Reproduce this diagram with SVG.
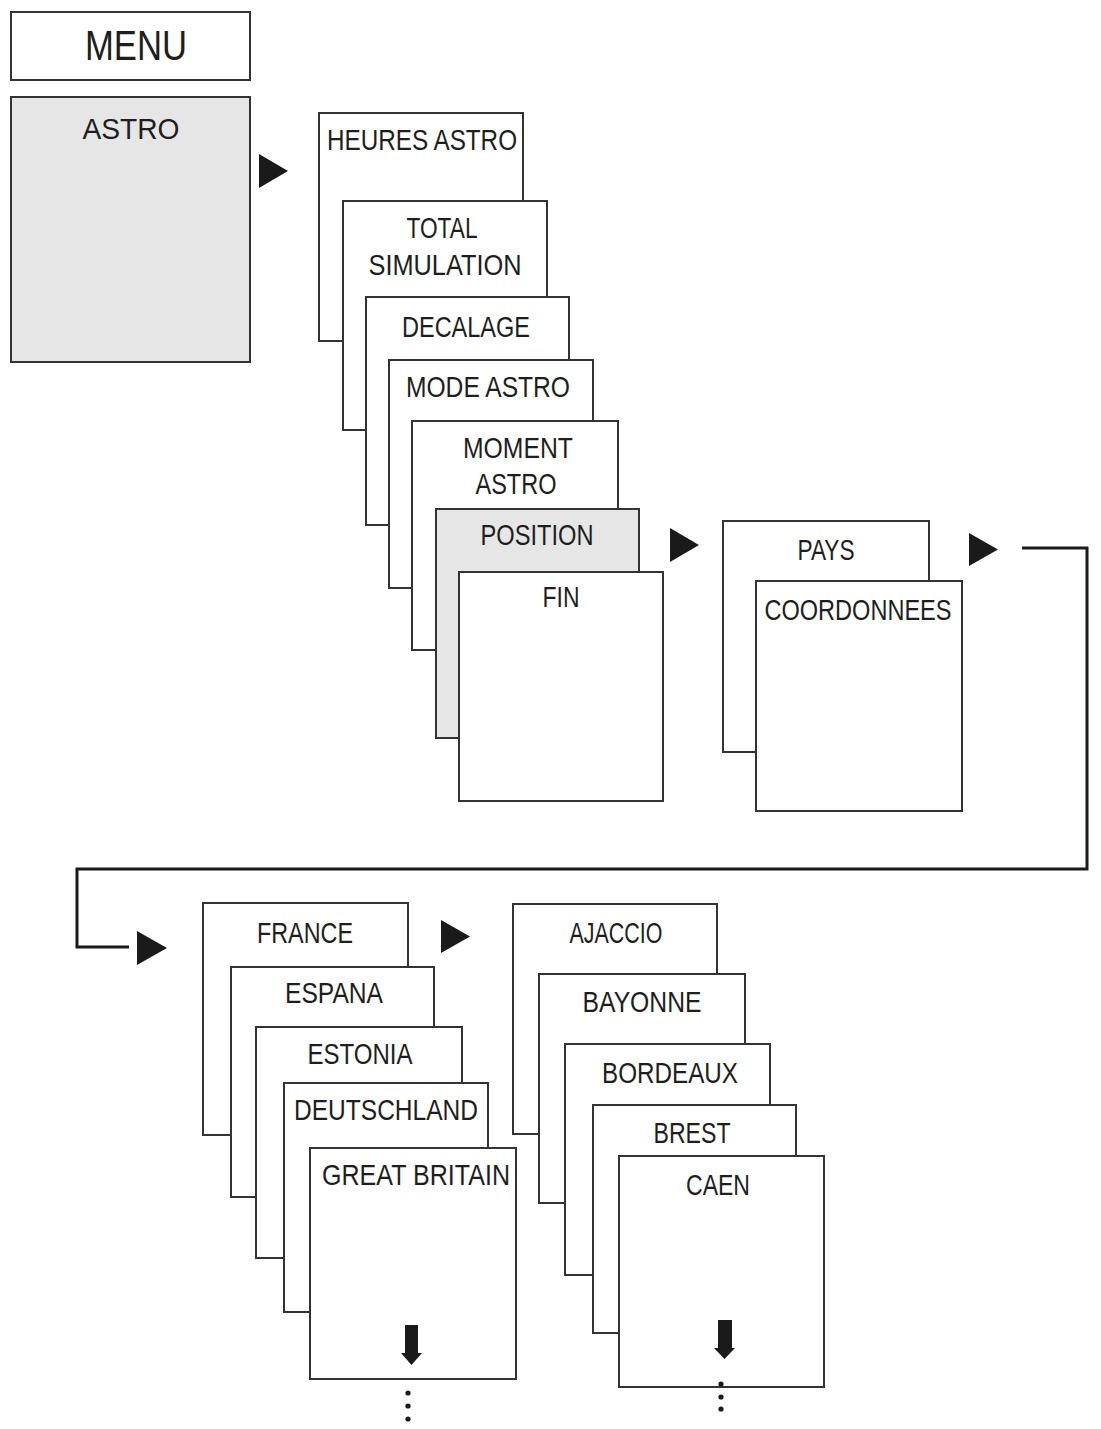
<svg xmlns="http://www.w3.org/2000/svg" width="1101" height="1429" viewBox="0 0 1101 1429">
<style>
.card{fill:#fff;stroke:#333;stroke-width:2}
.sel{fill:#e6e6e6;stroke:#333;stroke-width:2}
.t{font-family:"Liberation Sans",Arial,sans-serif;font-size:30px;fill:#1e1e1e;text-anchor:middle}
.big{font-size:42px}
.tri{fill:#1a1a1a}
.conn{fill:none;stroke:#1a1a1a;stroke-width:3}
.dot{fill:#1a1a1a}
</style>
<rect width="1101" height="1429" fill="#fff"/>

<g id="menu"><rect class="card" x="11" y="12" width="239" height="68"/><text class="t big" x="136" y="60" textLength="102" lengthAdjust="spacingAndGlyphs">MENU</text></g>
<g id="astro"><rect class="sel" x="11" y="97" width="239" height="265"/><text class="t" x="131" y="139" textLength="97" lengthAdjust="spacingAndGlyphs">ASTRO</text></g>

<g id="heures-astro"><rect class="card" x="319" y="113" width="204" height="228"/><text class="t" x="422" y="150" textLength="190" lengthAdjust="spacingAndGlyphs">HEURES ASTRO</text></g>
<g id="total-simulation"><rect class="card" x="343" y="201" width="204" height="229"/><text class="t" x="442" y="238" textLength="71" lengthAdjust="spacingAndGlyphs">TOTAL</text><text class="t" x="445" y="275" textLength="153" lengthAdjust="spacingAndGlyphs">SIMULATION</text></g>
<g id="decalage"><rect class="card" x="366" y="297" width="203" height="228"/><text class="t" x="466" y="337" textLength="128" lengthAdjust="spacingAndGlyphs">DECALAGE</text></g>
<g id="mode-astro"><rect class="card" x="389" y="360" width="204" height="228"/><text class="t" x="488" y="397" textLength="164" lengthAdjust="spacingAndGlyphs">MODE ASTRO</text></g>
<g id="moment-astro"><rect class="card" x="412" y="421" width="206" height="229"/><text class="t" x="518" y="458" textLength="110" lengthAdjust="spacingAndGlyphs">MOMENT</text><text class="t" x="516" y="494" textLength="81" lengthAdjust="spacingAndGlyphs">ASTRO</text></g>
<g id="position"><rect class="sel" x="436" y="509" width="203" height="229"/><text class="t" x="537" y="545" textLength="113" lengthAdjust="spacingAndGlyphs">POSITION</text></g>
<g id="fin"><rect class="card" x="459" y="572" width="204" height="229"/><text class="t" x="561" y="607" textLength="37" lengthAdjust="spacingAndGlyphs">FIN</text></g>

<g id="pays"><rect class="card" x="723" y="521" width="206" height="231"/><text class="t" x="826" y="560" textLength="57" lengthAdjust="spacingAndGlyphs">PAYS</text></g>
<g id="coordonnees"><rect class="card" x="756" y="581" width="206" height="230"/><text class="t" x="858" y="620" textLength="187" lengthAdjust="spacingAndGlyphs">COORDONNEES</text></g>

<g id="france"><rect class="card" x="203" y="903" width="205" height="232"/><text class="t" x="305" y="943" textLength="96" lengthAdjust="spacingAndGlyphs">FRANCE</text></g>
<g id="espana"><rect class="card" x="231" y="967" width="203" height="230"/><text class="t" x="334" y="1003" textLength="98" lengthAdjust="spacingAndGlyphs">ESPANA</text></g>
<g id="estonia"><rect class="card" x="256" y="1027" width="206" height="231"/><text class="t" x="360" y="1064" textLength="105" lengthAdjust="spacingAndGlyphs">ESTONIA</text></g>
<g id="deutschland"><rect class="card" x="284" y="1083" width="204" height="229"/><text class="t" x="386" y="1120" textLength="184" lengthAdjust="spacingAndGlyphs">DEUTSCHLAND</text></g>
<g id="great-britain"><rect class="card" x="310" y="1148" width="206" height="231"/><text class="t" x="416" y="1185" textLength="188" lengthAdjust="spacingAndGlyphs">GREAT BRITAIN</text>
<path class="tri" d="M405,1325 H418 V1353 H422 L411.5,1365 L401,1353 H405 Z"/>
<circle class="dot" cx="408" cy="1393" r="2.6"/><circle class="dot" cx="408" cy="1406" r="2.6"/><circle class="dot" cx="408" cy="1419" r="2.6"/></g>

<g id="ajaccio"><rect class="card" x="513" y="904" width="204" height="230"/><text class="t" x="616" y="943" textLength="93" lengthAdjust="spacingAndGlyphs">AJACCIO</text></g>
<g id="bayonne"><rect class="card" x="539" y="974" width="206" height="229"/><text class="t" x="642" y="1012" textLength="119" lengthAdjust="spacingAndGlyphs">BAYONNE</text></g>
<g id="bordeaux"><rect class="card" x="565" y="1044" width="205" height="231"/><text class="t" x="670" y="1083" textLength="136" lengthAdjust="spacingAndGlyphs">BORDEAUX</text></g>
<g id="brest"><rect class="card" x="593" y="1105" width="203" height="228"/><text class="t" x="692" y="1143" textLength="77" lengthAdjust="spacingAndGlyphs">BREST</text></g>
<g id="caen"><rect class="card" x="619" y="1156" width="205" height="231"/><text class="t" x="718" y="1195" textLength="64" lengthAdjust="spacingAndGlyphs">CAEN</text>
<path class="tri" d="M718,1320 H732 V1348 H735 L724.5,1359 L714,1348 H718 Z"/>
<circle class="dot" cx="721" cy="1384" r="2.6"/><circle class="dot" cx="721" cy="1397" r="2.6"/><circle class="dot" cx="721" cy="1409" r="2.6"/></g>

<g id="connectors">
<polygon class="tri" points="259,154 288,171 259,188"/>
<polygon class="tri" points="670,528 699,545 670,562"/>
<polygon class="tri" points="969,533 998,549.5 969,566"/>
<polyline class="conn" points="1022,548 1087,548 1087,869 77,869 77,947 129,947"/>
<polygon class="tri" points="137,931 167,948 137,965"/>
<polygon class="tri" points="441,920 470,936.5 441,953"/>
</g>
</svg>
